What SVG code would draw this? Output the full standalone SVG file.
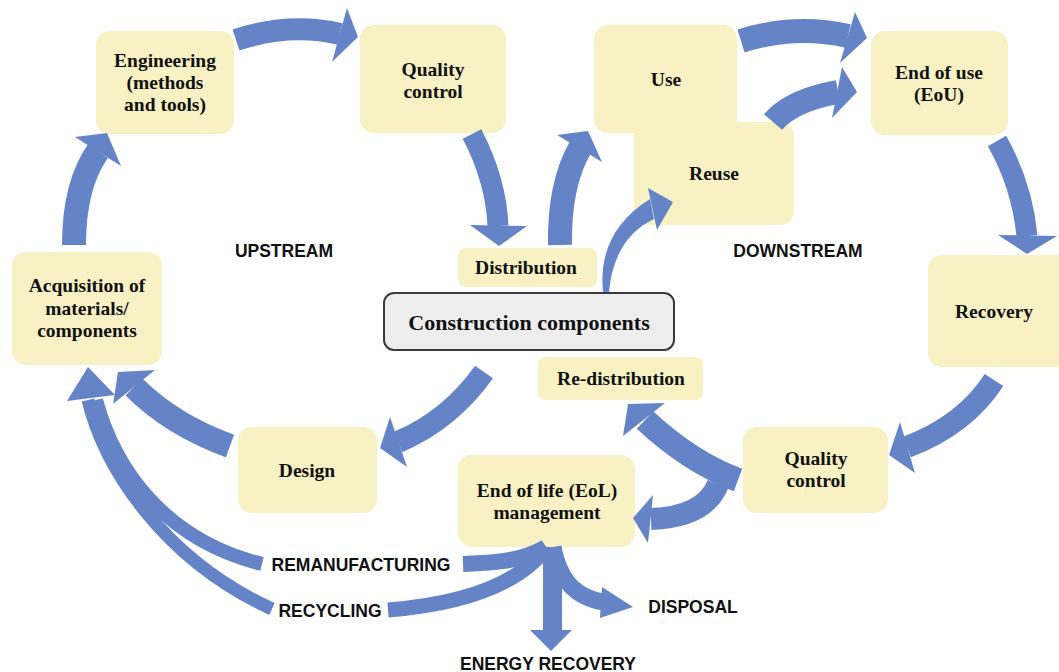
<svg xmlns="http://www.w3.org/2000/svg" width="1059" height="672" viewBox="0 0 1059 672">
<style>
.sh{fill:none;stroke:#6584C7;stroke-linecap:butt}
.hd{fill:#6584C7}
.box{fill:#F8F1C4}
.t{font-family:"Liberation Serif","Times New Roman",serif;font-weight:bold;font-size:19.5px;fill:#111;text-anchor:middle}
.s{font-family:"Liberation Sans",Arial,sans-serif;font-weight:bold;font-size:17.5px;fill:#111;text-anchor:middle}
</style>
<rect width="1059" height="672" fill="#fff"/>
<g id="engineering">
<rect class="box" x="96" y="31" width="138" height="103" rx="14"/>
<text class="t" x="165" y="67">Engineering</text>
<text class="t" x="165" y="89">(methods</text>
<text class="t" x="165" y="111">and tools)</text>
</g>
<g id="quality-control-top">
<rect class="box" x="360" y="25" width="146" height="108" rx="14"/>
<text class="t" x="433" y="76">Quality</text>
<text class="t" x="433" y="98">control</text>
</g>
<g id="use">
<rect class="box" x="594" y="25" width="143" height="108" rx="14"/>
<text class="t" x="666" y="86">Use</text>
</g>
<g id="reuse">
<rect class="box" x="634" y="122" width="160" height="103" rx="14"/>
<text class="t" x="714" y="180">Reuse</text>
</g>
<g id="end-of-use">
<rect class="box" x="871" y="31" width="137" height="104" rx="14"/>
<text class="t" x="939" y="79">End of use</text>
<text class="t" x="939" y="101">(EoU)</text>
</g>
<g id="recovery">
<rect class="box" x="928" y="255" width="145" height="112" rx="14"/>
<text class="t" x="994" y="318">Recovery</text>
</g>
<g id="quality-control-bottom">
<rect class="box" x="743" y="427" width="145" height="86" rx="14"/>
<text class="t" x="816" y="465">Quality</text>
<text class="t" x="816" y="487">control</text>
</g>
<g id="re-distribution">
<rect class="box" x="538" y="357" width="165" height="43" rx="7"/>
<text class="t" x="621" y="385">Re-distribution</text>
</g>
<g id="eol-management">
<rect class="box" x="458" y="455" width="177" height="92" rx="14"/>
<text class="t" x="547" y="497">End of life (EoL)</text>
<text class="t" x="547" y="519">management</text>
</g>
<g id="design">
<rect class="box" x="238" y="427" width="139" height="86" rx="14"/>
<text class="t" x="307" y="477">Design</text>
</g>
<g id="acquisition">
<rect class="box" x="12" y="252" width="150" height="113" rx="14"/>
<text class="t" x="87" y="292">Acquisition of</text>
<text class="t" x="87" y="315">materials/</text>
<text class="t" x="87" y="337">components</text>
</g>
<g id="distribution">
<rect class="box" x="458" y="248" width="139" height="39" rx="7"/>
<text class="t" x="526" y="274">Distribution</text>
</g>
<g id="construction-components">
<rect x="384" y="293" width="290" height="57" rx="10" fill="#EDEDED" stroke="#3A3A3A" stroke-width="2"/>
<text class="t" x="529" y="330" style="font-size:22px">Construction components</text>
</g>
<g id="connectors">
<path class="sh" stroke-width="24" d="M74,245 Q74,185 98,151"/>
<polygon class="hd" points="75,137 107,133 121,166"/>
<path class="sh" stroke-width="22" d="M236,40 Q290,22 340,34"/>
<polygon class="hd" points="347,8 358,37 332,62"/>
<path class="sh" stroke-width="21" d="M472,134 Q496,180 498,226"/>
<polygon class="hd" points="470,225 527,226 499,246"/>
<path class="sh" stroke-width="24" d="M560,245 Q559,185 580,148"/>
<polygon class="hd" points="557,135 588,131 602,162"/>
<path class="sh" stroke-width="24" d="M741,41 Q795,24 848,36"/>
<polygon class="hd" points="855,12 867,38 840,63"/>
<path class="sh" stroke-width="24" d="M773,122 Q792,100 838,92"/>
<polygon class="hd" points="842,67 857,92 832,118"/>
<path class="hd" d="M603,292 Q597,232 650,199 L654,219 Q614,238 609,292 Z"/>
<polygon class="hd" points="648,188 673,202 657,230"/>
<path class="sh" stroke-width="21" d="M997,141 Q1022,185 1027,236"/>
<polygon class="hd" points="998,235 1057,236 1027,254"/>
<path class="sh" stroke-width="22" d="M994,380 Q965,425 907,447"/>
<polygon class="hd" points="900,422 889,455 915,473"/>
<path class="sh" stroke-width="22" d="M718,484 Q705,517 651,519"/>
<polygon class="hd" points="653,495 633,518 648,543"/>
<path class="sh" stroke-width="24" d="M738,480 Q690,462 645,420"/>
<polygon class="hd" points="665,403 628,404 623,436"/>
<path class="sh" stroke-width="22" d="M484,372 Q450,420 398,442"/>
<polygon class="hd" points="390,417 380,448 407,467"/>
<path class="sh" stroke-width="24" d="M230,446 Q172,425 134,387"/>
<polygon class="hd" points="155,370 118,372 113,404"/>
<path class="sh" stroke-width="13" d="M88,400 C105,470 165,560 272,609"/>
<path class="sh" stroke-width="14" d="M96,400 C115,470 165,540 262,564"/>
<polygon class="hd" points="67,401 88,367 115,395"/>
<path class="sh" stroke-width="16" d="M463,564 C490,563 522,562 546,547"/>
<path class="sh" stroke-width="15" d="M388,610 C450,605 515,590 547,547"/>
<rect class="hd" x="543" y="547" width="19" height="84"/>
<polygon class="hd" points="530,630 572,630 551,651"/>
<path class="sh" stroke-width="17" d="M553,547 C560,585 580,598 603,602"/>
<polygon class="hd" points="602,587 633,607 600,618"/>
<text class="s" x="284" y="257">UPSTREAM</text>
<text class="s" x="798" y="257">DOWNSTREAM</text>
<text class="s" x="361" y="571">REMANUFACTURING</text>
<text class="s" x="330" y="617">RECYCLING</text>
<text class="s" x="693" y="613">DISPOSAL</text>
<text class="s" x="548" y="670">ENERGY RECOVERY</text>
</g>
</svg>
